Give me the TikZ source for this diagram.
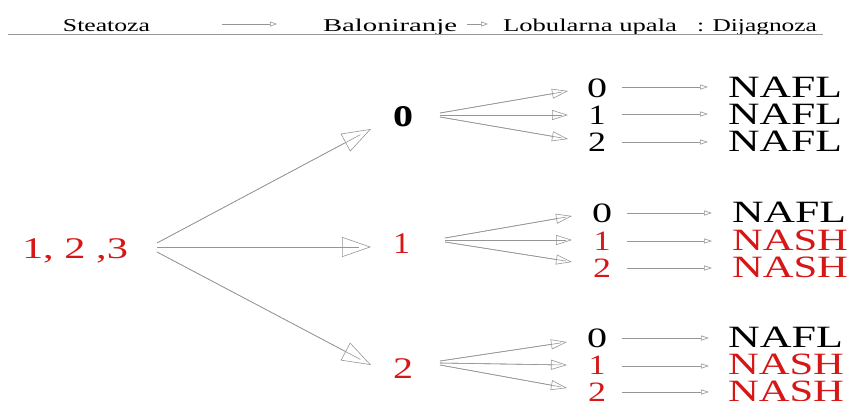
\documentclass[tikz,border=0pt]{standalone}
\usepackage{fontspec}
\setmainfont{Liberation Serif}
\usetikzlibrary{arrows.meta}
\definecolor{linegray}{RGB}{150,150,150}
\definecolor{redtxt}{RGB}{215,22,22}
\newcommand\wtxt[2]{\resizebox{#1}{\height}{#2}}
\tikzset{
  txt/.style={inner sep=0pt, outer sep=0pt},
  hdrfont/.style={font=\fontsize{18}{20}\selectfont},
  bigfont/.style={font=\fontsize{30}{34}\selectfont},
  digfont/.style={font=\fontsize{28}{30}\selectfont},
  diagfont/.style={font=\fontsize{31}{34}\selectfont},
  bigarrow/.style={draw=linegray, line width=0.6pt, preaction={draw=linegray, line width=0.6pt, -, shorten >=12pt},
     -{Triangle[open,length=29pt,width=20pt]}},
  fanarrow/.style={draw=linegray, line width=0.6pt, preaction={draw=linegray, line width=0.6pt, -, shorten >=6pt},
     -{Triangle[open,length=16pt,width=10pt]}},
  hzarrow/.style={draw=linegray, line width=0.6pt, -{Triangle[open,length=8pt,width=5pt]}},
}
\begin{document}
\begin{tikzpicture}[x=1pt,y=-1pt]
\useasboundingbox (0,0) rectangle (855,400);
\clip (0,0) rectangle (855,400);
% header
\node[txt,hdrfont,anchor=base west] (steat) at (63,31) {\wtxt{87pt}{Steatoza}};
\node[txt,hdrfont,anchor=base west] (balon) at (323,31) {\wtxt{134pt}{Baloniranje}};
\node[txt,hdrfont,anchor=base west] (lob) at (503,31) {\wtxt{174pt}{Lobularna upala}};
\node[txt,hdrfont,anchor=base west] (dij) at (697,31) {\wtxt{120pt}{: Dijagnoza}};
\draw[hzarrow,-{Triangle[open,length=7pt,width=5pt]}] ([xshift=72pt,yshift=7pt]steat.base east) -- ([xshift=-46pt,yshift=7pt]balon.base west);
\draw[hzarrow,-{Triangle[open,length=7pt,width=5pt]}] ([xshift=10pt,yshift=7pt]balon.base east) -- ([xshift=-15pt,yshift=7pt]lob.base west);
\coordinate (ruleL) at (8,34);
\coordinate (ruleR) at (823,34);
\draw[linegray, line width=0.9pt] (ruleL) -- (ruleR);
% root
\node[txt,bigfont,text=redtxt,anchor=base west] (root) at (22,258) {\wtxt{106pt}{1, 2 ,3}};
% middle column
\node[txt,anchor=center] (m0) at (403,117) {\resizebox{20pt}{20pt}{\textbf{o}}};
\node[txt,bigfont,text=redtxt,anchor=base] (m1) at (401.5,253) {\wtxt{17pt}{1}};
\node[txt,bigfont,text=redtxt,anchor=base] (m2) at (403,378) {\wtxt{20pt}{2}};
\draw[bigarrow] ([xshift=29pt,yshift=15pt]root.base east) -- ([xshift=-32pt,yshift=-12pt]m0.center);
\draw[bigarrow] ([xshift=29pt,yshift=11pt]root.base east) -- ([xshift=-30.5pt,yshift=6pt]m1.base);
\draw[bigarrow] ([xshift=29pt,yshift=6pt]root.base east) -- ([xshift=-32pt,yshift=13pt]m2.base);
% group 1
\node[txt,digfont,anchor=base] (a0) at (597,97) {\wtxt{20pt}{0}};
\node[txt,digfont,anchor=base] (a1) at (597,124) {\wtxt{17pt}{1}};
\node[txt,digfont,anchor=base] (a2) at (597,151) {\wtxt{18pt}{2}};
\node[txt,diagfont,anchor=base west] (na0) at (728,97) {\wtxt{114pt}{NAFL}};
\node[txt,diagfont,anchor=base west] (na1) at (728,124) {\wtxt{114pt}{NAFL}};
\node[txt,diagfont,anchor=base west] (na2) at (728,151) {\wtxt{114pt}{NAFL}};
\draw[fanarrow] ([xshift=37pt,yshift=4pt]m0.center) -- ([xshift=-29pt,yshift=6pt]a0.base);
\draw[fanarrow] ([xshift=37pt,yshift=2pt]m0.center) -- ([xshift=-29pt,yshift=9pt]a1.base);
\draw[fanarrow] ([xshift=37pt,yshift=0pt]m0.center) -- ([xshift=-29pt,yshift=12pt]a2.base);
\draw[hzarrow] ([xshift=25pt,yshift=10pt]a0.base) -- ([xshift=-20pt,yshift=10pt]na0.base west);
\draw[hzarrow] ([xshift=25pt,yshift=10pt]a1.base) -- ([xshift=-20pt,yshift=10pt]na1.base west);
\draw[hzarrow] ([xshift=25pt,yshift=9pt]a2.base) -- ([xshift=-20pt,yshift=9pt]na2.base west);
% group 2
\node[txt,digfont,anchor=base] (b0) at (602,222) {\wtxt{20pt}{0}};
\node[txt,digfont,text=redtxt,anchor=base] (b1) at (602,250) {\wtxt{17pt}{1}};
\node[txt,digfont,text=redtxt,anchor=base] (b2) at (602,277) {\wtxt{18pt}{2}};
\node[txt,diagfont,anchor=base west] (nb0) at (732,222) {\wtxt{114pt}{NAFL}};
\node[txt,diagfont,text=redtxt,anchor=base west] (nb1) at (732,250) {\wtxt{116pt}{NASH}};
\node[txt,diagfont,text=redtxt,anchor=base west] (nb2) at (732,277) {\wtxt{116pt}{NASH}};
\draw[fanarrow] ([xshift=43.5pt,yshift=15pt]m1.base) -- ([xshift=-30pt,yshift=6pt]b0.base);
\draw[fanarrow] ([xshift=43.5pt,yshift=13pt]m1.base) -- ([xshift=-30pt,yshift=10pt]b1.base);
\draw[fanarrow] ([xshift=43.5pt,yshift=11pt]m1.base) -- ([xshift=-30pt,yshift=15pt]b2.base);
\draw[hzarrow] ([xshift=25pt,yshift=9pt]b0.base) -- ([xshift=-20pt,yshift=9pt]nb0.base west);
\draw[hzarrow] ([xshift=25pt,yshift=9pt]b1.base) -- ([xshift=-20pt,yshift=9pt]nb1.base west);
\draw[hzarrow] ([xshift=25pt,yshift=9pt]b2.base) -- ([xshift=-20pt,yshift=9pt]nb2.base west);
% group 3
\node[txt,digfont,anchor=base] (c0) at (597,347) {\wtxt{20pt}{0}};
\node[txt,digfont,text=redtxt,anchor=base] (c1) at (597,374) {\wtxt{17pt}{1}};
\node[txt,digfont,text=redtxt,anchor=base] (c2) at (597,401) {\wtxt{18pt}{2}};
\node[txt,diagfont,anchor=base west] (nc0) at (728,347) {\wtxt{115pt}{NAFL}};
\node[txt,diagfont,text=redtxt,anchor=base west] (nc1) at (728,374) {\wtxt{116pt}{NASH}};
\node[txt,diagfont,text=redtxt,anchor=base west] (nc2) at (728,401) {\wtxt{116pt}{NASH}};
\draw[fanarrow] ([xshift=37pt,yshift=17pt]m2.base) -- ([xshift=-30pt,yshift=5pt]c0.base);
\draw[fanarrow] ([xshift=37pt,yshift=15pt]m2.base) -- ([xshift=-30pt,yshift=9pt]c1.base);
\draw[fanarrow] ([xshift=37pt,yshift=13pt]m2.base) -- ([xshift=-30pt,yshift=13pt]c2.base);
\draw[hzarrow] ([xshift=25pt,yshift=9pt]c0.base) -- ([xshift=-19pt,yshift=9pt]nc0.base west);
\draw[hzarrow] ([xshift=25pt,yshift=8pt]c1.base) -- ([xshift=-19pt,yshift=8pt]nc1.base west);
\draw[hzarrow] ([xshift=25pt,yshift=9pt]c2.base) -- ([xshift=-19pt,yshift=9pt]nc2.base west);
\end{tikzpicture}
\end{document}
